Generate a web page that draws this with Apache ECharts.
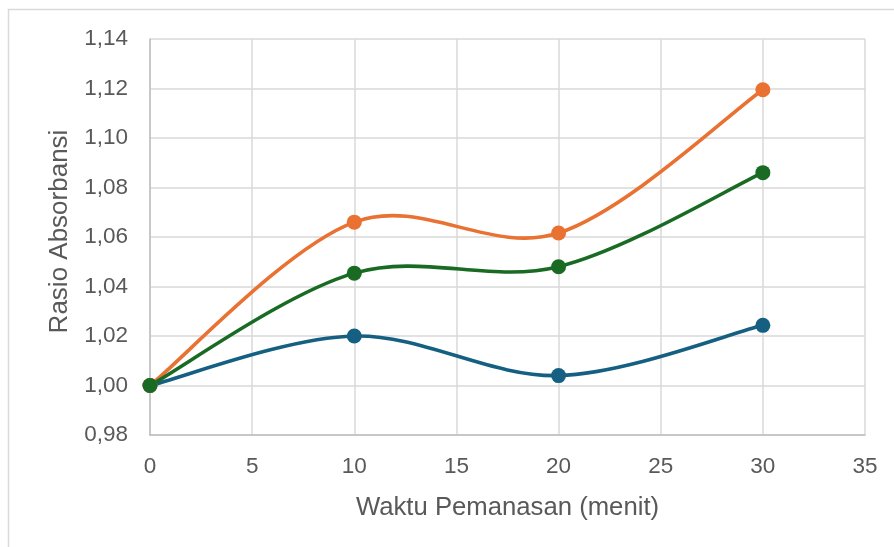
<!DOCTYPE html>
<html>
<head>
<meta charset="utf-8">
<style>
  html, body { margin: 0; padding: 0; background: #ffffff; }
  #chart { width: 894px; height: 547px; }
</style>
<script src="https://cdn.jsdelivr.net/npm/echarts@6/dist/echarts.min.js"></script>
</head>
<body>
<div id="chart"></div>
<script>
// Heating time (minutes) on the x axis
const waktu = [0, 10, 20, 30];

// Absorbance ratio for each sample
const seriBiru = [1.000, 1.020, 1.004, 1.0243];
const seriOranye = [1.000, 1.066, 1.0616, 1.1195];
const seriHijau = [1.000, 1.0454, 1.048, 1.086];

const xTicks = { min: 0, max: 35, step: 5 };
const yTicks = { min: 0.98, max: 1.14, step: 0.02 };

const FONT = 'Liberation Sans';
const TEXT = '#595959';
const LINE_W = 3.6;
const MARKER = 15;

function pairs(vals) {
  return waktu.map((x, i) => [x, vals[i]]);
}

// Smooth curve: one cubic Bezier per segment, Catmull-Rom style tangents
// (neighbour difference / 6), computed in pixel space from the axis scales.
function curveSeries(name, vals, color) {
  const n = vals.length;
  return {
    name: name,
    type: 'custom',
    data: pairs(vals),
    silent: true,
    renderItem: function (params, api) {
      const i = params.dataIndex;
      if (i >= n - 1) return null;
      const pt = j => {
        const k = Math.max(0, Math.min(n - 1, j));
        return api.coord([waktu[k], vals[k]]);
      };
      const p0 = pt(i - 1), p1 = pt(i), p2 = pt(i + 1), p3 = pt(i + 2);
      return {
        type: 'bezierCurve',
        shape: {
          x1: p1[0], y1: p1[1],
          x2: p2[0], y2: p2[1],
          cpx1: p1[0] + (p2[0] - p0[0]) / 6,
          cpy1: p1[1] + (p2[1] - p0[1]) / 6,
          cpx2: p2[0] - (p3[0] - p1[0]) / 6,
          cpy2: p2[1] - (p3[1] - p1[1]) / 6
        },
        style: { stroke: color, lineWidth: LINE_W, fill: null, lineCap: 'round', lineJoin: 'round' }
      };
    }
  };
}

function markerSeries(name, vals, color) {
  return {
    name: name,
    type: 'scatter',
    data: pairs(vals),
    symbol: 'circle',
    symbolSize: MARKER,
    itemStyle: { color: color, opacity: 1 },
    emphasis: { disabled: true },
    silent: true
  };
}

const chart = echarts.init(document.getElementById('chart'), null, { renderer: 'canvas' });
chart.setOption({
  animation: false,
  backgroundColor: '#ffffff',
  graphic: [{
    type: 'rect',
    shape: { x: 8.5, y: 9.5, width: 900, height: 600 },
    style: { fill: 'none', stroke: '#d9d9d9', lineWidth: 1.5 },
    silent: true,
    z: -1
  }],
  grid: { left: 150, right: 29, top: 39, bottom: 112, containLabel: false, outerBoundsMode: 'none' },
  xAxis: {
    type: 'value',
    min: xTicks.min, max: xTicks.max, interval: xTicks.step,
    name: 'Waktu Pemanasan (menit)',
    nameLocation: 'middle',
    nameGap: 60,
    nameTextStyle: { color: TEXT, fontSize: 25.7, fontFamily: FONT },
    axisLine: { show: true, lineStyle: { color: '#bfbfbf', width: 1.5 } },
    axisTick: { show: false },
    axisLabel: { color: TEXT, fontSize: 22.5, fontFamily: FONT, margin: 20 },
    splitLine: { show: true, lineStyle: { color: '#d9d9d9', width: 1.5 } }
  },
  yAxis: {
    type: 'value',
    min: yTicks.min, max: yTicks.max, interval: yTicks.step,
    name: 'Rasio Absorbansi',
    nameLocation: 'middle',
    nameRotate: 90,
    nameGap: 75,
    nameTextStyle: { color: TEXT, fontSize: 26, fontFamily: FONT, padding: [0, 0, 0, 11] },
    axisLine: { show: true, lineStyle: { color: '#bfbfbf', width: 1.5 } },
    axisTick: { show: false },
    axisLabel: {
      color: TEXT, fontSize: 22.5, fontFamily: FONT, margin: 22,
      formatter: v => v.toFixed(2).replace('.', ',')
    },
    splitLine: { show: true, lineStyle: { color: '#d9d9d9', width: 1.5 } }
  },
  series: [
    curveSeries('Biru', seriBiru, '#156082'),
    markerSeries('Biru', seriBiru, '#156082'),
    curveSeries('Oranye', seriOranye, '#E97132'),
    markerSeries('Oranye', seriOranye, '#E97132'),
    curveSeries('Hijau', seriHijau, '#196B24'),
    markerSeries('Hijau', seriHijau, '#196B24')
  ]
});
</script>
</body>
</html>
